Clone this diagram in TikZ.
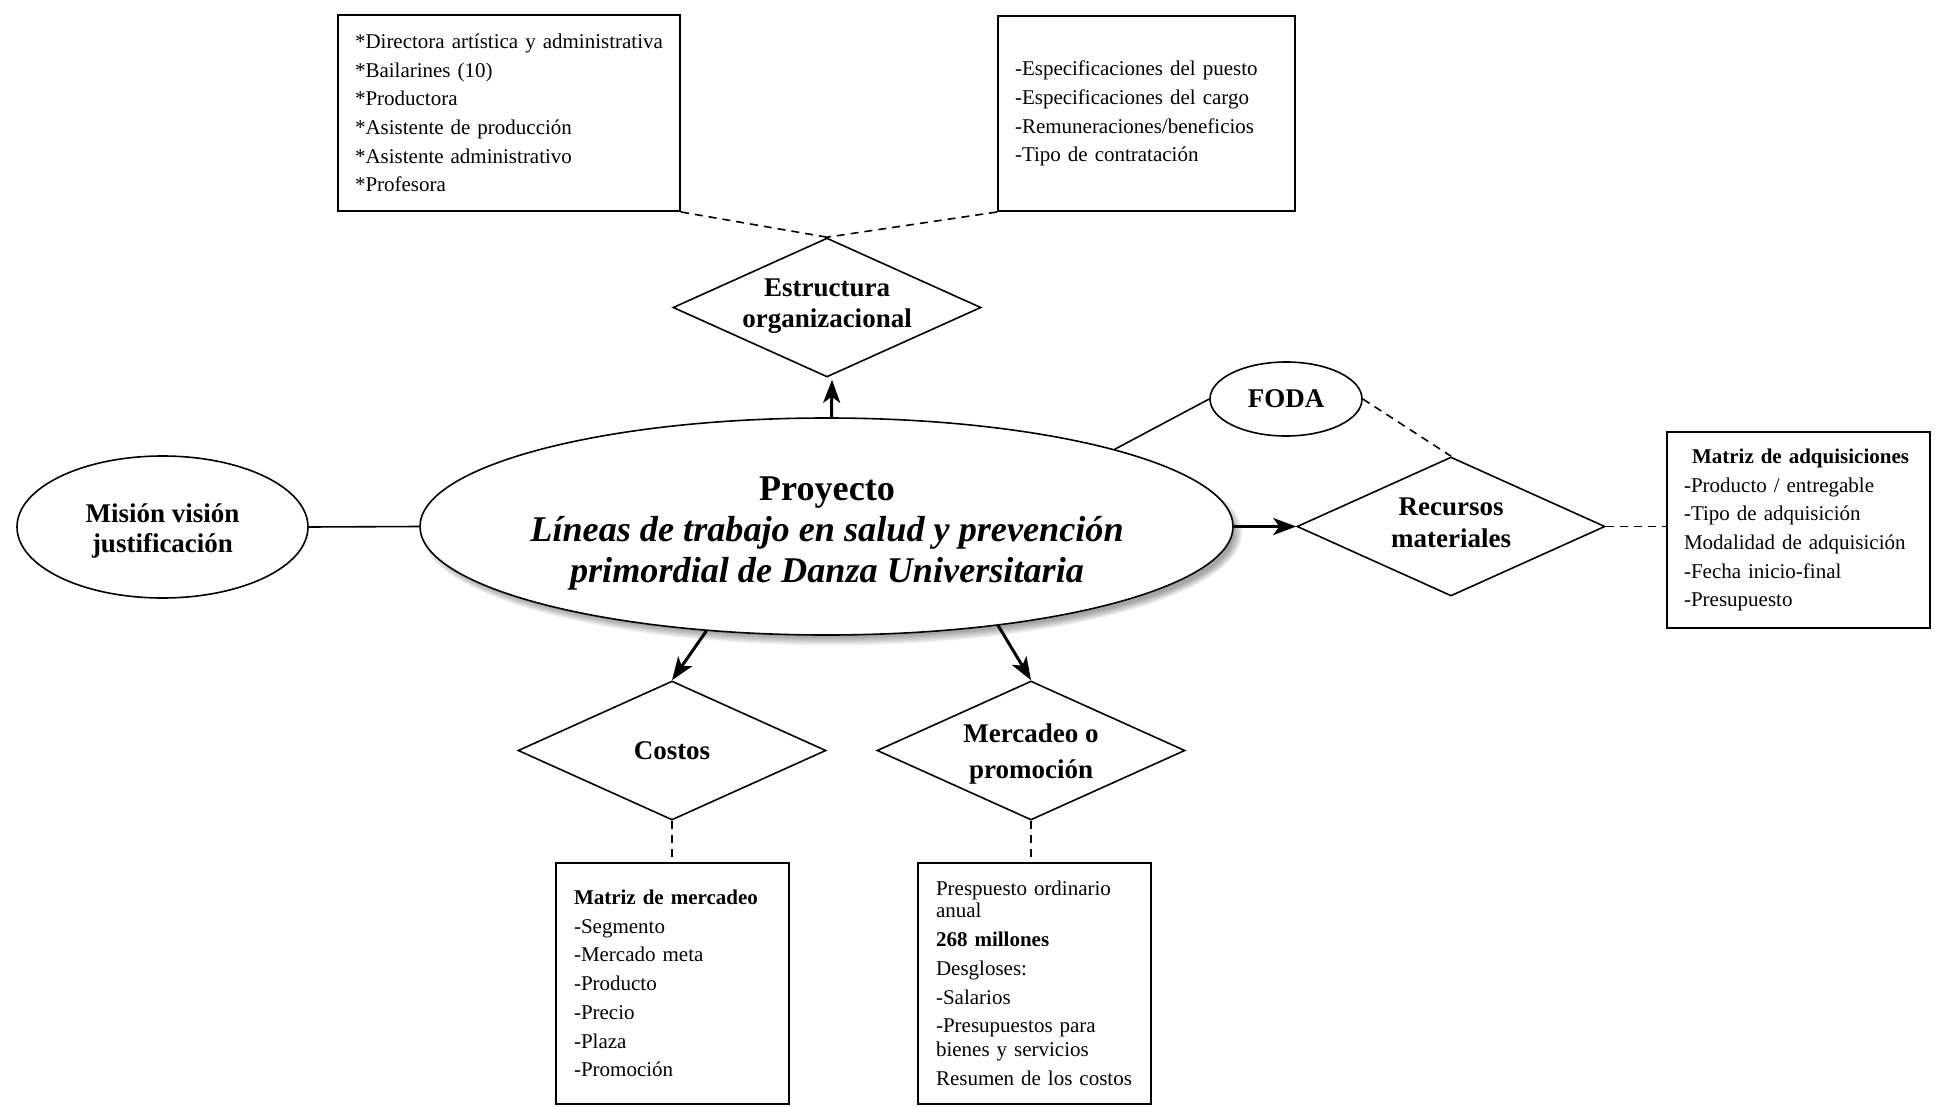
\documentclass[tikz,border=0pt]{standalone}
\usepackage{fontspec}
\setmainfont{Liberation Serif}
\usetikzlibrary{shapes.geometric,arrows.meta}
\begin{document}
\begin{tikzpicture}[x=1pt,y=-1pt,
  lbl/.style={font=\fontsize{27}{31.5}\selectfont\bfseries, align=center, inner sep=0pt},
  dia/.style={draw, diamond, line width=1.6pt, minimum width=308pt, minimum height=139pt, inner sep=0pt},
  infobox/.style={draw, line width=2pt, rectangle, align=left, font=\fontsize{21}{28.7}\selectfont, inner xsep=17pt, inner ysep=0pt, anchor=north west},
  ell/.style={draw, ellipse, line width=1.6pt, inner sep=0pt, fill=white},
  conn/.style={line width=1.6pt},
  dconn/.style={line width=1.6pt, dash pattern=on 8pt off 6pt},
  arr/.style={line width=3pt, -{Stealth[length=23pt,width=17pt,inset=6pt]}},
]
\useasboundingbox (0,0) rectangle (1950,1107);
\fill[white] (0,0) rectangle (1950,1107);

% shadow of the main ellipse
\foreach \k in {0,...,7}
  \fill[black,opacity=0.05] (832,533) ellipse ({402+1.2*\k} and {104+1.2*\k});

% main ellipse
\node[ell, minimum width=813pt, minimum height=217pt] (main) at (826.5,526.5) {};
\node[font=\fontsize{36.2}{41}\selectfont\bfseries, align=center, inner sep=0pt] (maintext) at (827,533)
  {Proyecto\\\textit{Líneas de trabajo en salud y prevención}\\\textit{primordial de Danza Universitaria}};

% side ellipses
\node[ell, minimum width=291pt, minimum height=142pt] (mis) at (162.5,527) {};
\node[lbl, font=\fontsize{27}{30.5}\selectfont\bfseries] (mistext) at (162.5,531) {Misión visión\\justificación};
\node[ell, minimum width=152pt, minimum height=74pt, font=\fontsize{27}{30}\selectfont\bfseries] (foda) at (1286,399) {FODA};

% diamonds
\node[dia] (est) at (827,307.5) {};
\node[lbl] (esttext) at (827,306) {Estructura\\organizacional};
\node[dia] (rec) at (1451,526.5) {};
\node[lbl] (rectext) at (1451,523) {Recursos\\materiales};
\node[dia] (cos) at (672,750.5) {};
\node[lbl] (costext) at (672,751) {Costos};
\node[dia] (mer) at (1031,750.5) {};
\node[lbl] (mertext) at (1031,754) {Mercadeo o\\[4pt]promoción};

% boxes
\node[infobox, minimum width=342pt, minimum height=196pt, text width=308pt] (box1) at (337,14)
  {{*}Directora artística y administrativa\\{*}Bailarines (10)\\{*}Productora\\{*}Asistente de producción\\{*}Asistente administrativo\\{*}Profesora};
\node[infobox, minimum width=297pt, minimum height=195pt, text width=263pt] (box2) at (997,15)
  {-Especificaciones del puesto\\-Especificaciones del cargo\\-Remuneraciones/beneficios\\-Tipo de contratación};
\node[infobox, minimum width=263pt, minimum height=196pt, text width=229pt] (adq) at (1666,431)
  {\hspace*{8pt}\textbf{Matriz de adquisiciones}\\-Producto / entregable\\-Tipo de adquisición\\Modalidad de adquisición\\-Fecha inicio-final\\-Presupuesto};
\node[infobox, minimum width=233pt, minimum height=241pt, text width=197pt, inner xsep=18pt] (mkt) at (555,862)
  {\textbf{Matriz de mercadeo}\\-Segmento\\-Mercado meta\\-Producto\\-Precio\\-Plaza\\-Promoción};
\node[infobox, minimum width=233pt, minimum height=241pt, text width=197pt, inner xsep=18pt] (pre) at (917,862)
  {Prespuesto ordinario\\[-6.7pt]anual\\\textbf{268 millones}\\Desgloses:\\-Salarios\\-Presupuestos para\\[-4.7pt]bienes y servicios\\Resumen de los costos};

% connectors
\draw[conn] (mis.east) -- (main.west);
\draw[conn] (main.15.3) -- (foda.west);
\draw[dconn] (foda.east) -- (rec.north);
\draw[dconn] (rec.east) -- (rec.east -| adq.west);
\draw[dconn] (box1.south east) -- (est.north);
\draw[dconn] (box2.south west) -- (est.north);
\draw[dconn] (cos.south) -- (cos.south |- mkt.north);
\draw[dconn] (mer.south) -- (mer.south |- pre.north);
\draw[arr] ([xshift=5pt]main.north) -- ([xshift=5pt,yshift=-2pt]est.south);
\draw[arr] (main.east) -- (rec.west);
\draw[arr] (main.221) -- (cos.north);
\draw[arr] (main.330) -- (mer.north);
\end{tikzpicture}
\end{document}
